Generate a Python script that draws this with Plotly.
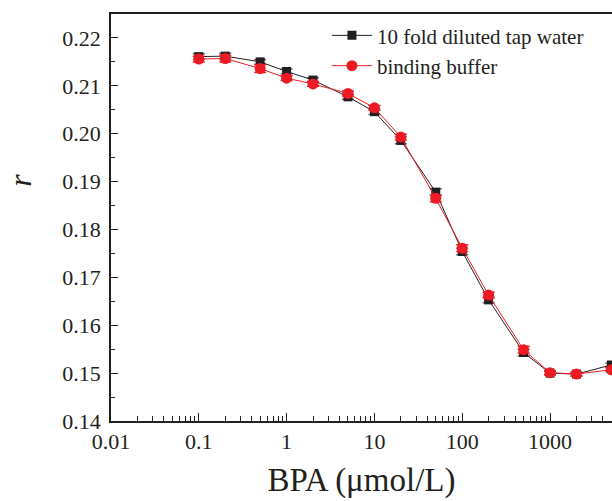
import plotly.graph_objects as go

# BPA concentration (umol/L)
bpa = [0.1, 0.2, 0.5, 1, 2, 5, 10, 20, 50, 100, 200, 500, 1000, 2000, 5000]

# r values
r_tap = [0.2161, 0.2162, 0.2150, 0.2130, 0.2112, 0.2077, 0.2046, 0.1986,
         0.1878, 0.1754, 0.1653, 0.1543, 0.1500, 0.1498, 0.1517]
r_buf = [0.2156, 0.2157, 0.2136, 0.2116, 0.2104, 0.2084, 0.2054, 0.1993,
         0.1865, 0.1761, 0.1663, 0.1549, 0.1501, 0.1498, 0.1507]
err_tap = [0.0006, 0.0006, 0.0005, 0.0005, 0.0005, 0.0005, 0.0006, 0.0007,
           0.0007, 0.0007, 0.0006, 0.0007, 0.0004, 0.0004, 0.0004]
err_buf = [0.0006, 0.0007, 0.0008, 0.0005, 0.0005, 0.0005, 0.0005, 0.0006,
           0.0007, 0.0007, 0.0006, 0.0007, 0.0004, 0.0004, 0.0004]

FONT = "Liberation Serif"
INK = "#231f20"

fig = go.Figure()

fig.add_trace(go.Scatter(
    x=bpa, y=r_tap, name="10 fold diluted tap water",
    mode="lines+markers",
    line=dict(color=INK, width=1),
    marker=dict(symbol="square", size=9, color=INK),
    error_y=dict(type="data", array=err_tap, color="#6d6e70", thickness=1.5, width=6),
))
fig.add_trace(go.Scatter(
    x=bpa, y=r_buf, name="binding buffer",
    mode="lines+markers",
    line=dict(color="#ed1c24", width=1),
    marker=dict(symbol="circle", size=11, color="#ed1c24"),
    error_y=dict(type="data", array=err_buf, color="#ed1c24", thickness=1.5, width=6),
))

fig.update_layout(
    width=612, height=501,
    margin=dict(l=111, r=0, t=14, b=80),
    plot_bgcolor="white", paper_bgcolor="white",
    font=dict(family=FONT, size=22, color=INK),
    legend=dict(x=0.431, y=0.997, xanchor="left", yanchor="top",
                bgcolor="rgba(0,0,0,0)", font=dict(family=FONT, size=21, color=INK),
                tracegroupgap=0, itemwidth=40),
)

# y title "r" sits above the middle of the axis, so it is an annotation
fig.add_annotation(
    text="<i>r</i>", xref="paper", yref="paper", x=-0.182, y=0.592,
    xanchor="center", yanchor="middle",
    textangle=-90, showarrow=False, font=dict(family=FONT, size=32, color=INK),
)

fig.update_xaxes(
    type="log", range=[-2, 3.706], dtick=1, exponentformat="none",
    showline=True, linecolor=INK, linewidth=1.5, mirror=True,
    ticks="inside", ticklen=8, tickwidth=1.2, tickcolor=INK, ticklabelstandoff=0,
    minor=dict(ticks="inside", ticklen=5, tickwidth=1, tickcolor=INK, dtick="D1", showgrid=False),
    showgrid=False, zeroline=False,
    title=dict(text="BPA (μmol/L)", font=dict(family=FONT, size=33), standoff=15),
)
fig.update_yaxes(
    range=[0.14, 0.225], dtick=0.01, tick0=0.14, tickformat=".2f",
    showline=True, linecolor=INK, linewidth=1.5, mirror=False,
    ticks="inside", ticklen=7, tickwidth=1.2, tickcolor=INK, ticklabelstandoff=4,
    minor=dict(ticks="inside", ticklen=4, tickwidth=1, tickcolor=INK, dtick=0.005, showgrid=False),
    showgrid=False, zeroline=False,
)

# drop the default 8px page margin so the 612x501 figure fills the window
fig.write_html("out.html", config={"displayModeBar": False},
               post_script="document.body.style.margin='0';document.body.style.overflow='hidden';")
